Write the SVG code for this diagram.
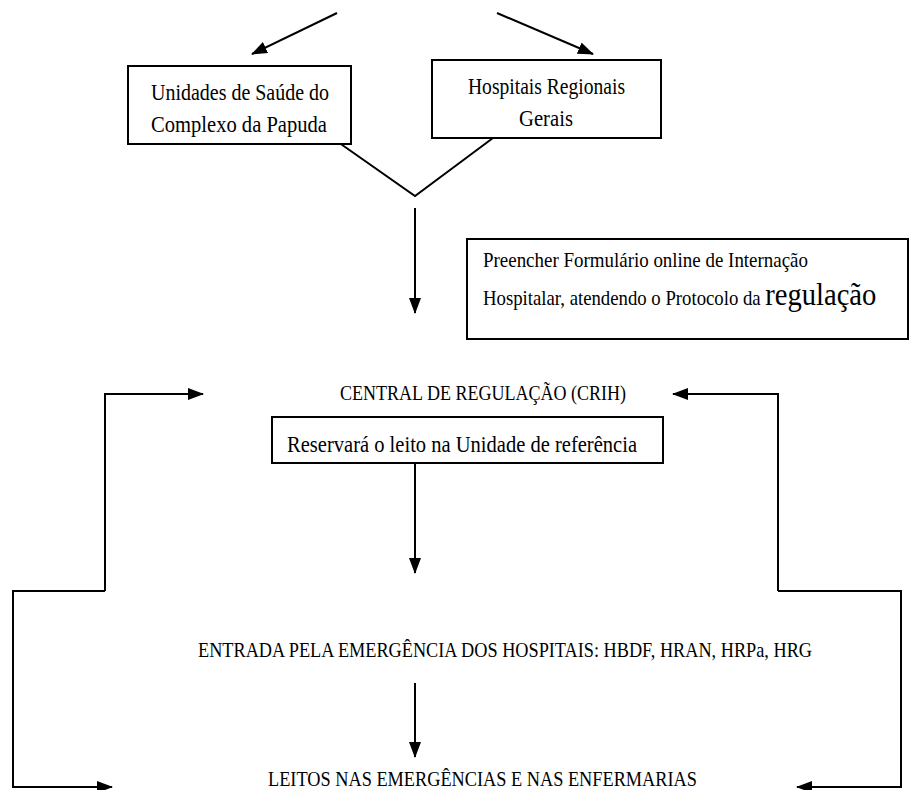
<svg xmlns="http://www.w3.org/2000/svg" width="909" height="790" viewBox="0 0 909 790">
<style>
.box{fill:#fff;stroke:#000;stroke-width:2}
.ln{fill:none;stroke:#000;stroke-width:2}
.t{font-family:"Liberation Serif","Times New Roman",serif;fill:#000;font-size:21px}
.tb{font-family:"Liberation Serif","Times New Roman",serif;fill:#000;font-size:23px}
</style>
<defs>
<marker id="ah" viewBox="0 0 16 12" refX="15" refY="6" markerWidth="16" markerHeight="12" markerUnits="userSpaceOnUse" orient="auto">
<path d="M0,0 L16,6 L0,12 Z" fill="#000"/>
</marker>
</defs>
<rect width="909" height="790" fill="#fff"/>
<g id="connectors">
<line class="ln" x1="337" y1="13" x2="252" y2="54" marker-end="url(#ah)"/>
<line class="ln" x1="497" y1="13" x2="593" y2="54" marker-end="url(#ah)"/>
<polyline class="ln" points="338,142 415,196 497,135"/>
<line class="ln" x1="415" y1="208" x2="415" y2="313" marker-end="url(#ah)"/>
<line class="ln" x1="415" y1="463" x2="415" y2="573" marker-end="url(#ah)"/>
<line class="ln" x1="415" y1="683" x2="415" y2="757" marker-end="url(#ah)"/>
<path class="ln" d="M105,591 V394 H203" marker-end="url(#ah)"/>
<path class="ln" d="M105,591 H13 V787 H112" marker-end="url(#ah)"/>
<path class="ln" d="M778,591 V394 H673" marker-end="url(#ah)"/>
<path class="ln" d="M778,591 H901 V787 H797" marker-end="url(#ah)"/>
</g>
<g id="unidades">
<rect class="box" x="128" y="66" width="223" height="78"/>
<text class="tb" x="151" y="100" textLength="178" lengthAdjust="spacingAndGlyphs">Unidades de Saúde do</text>
<text class="tb" x="151" y="132" textLength="176" lengthAdjust="spacingAndGlyphs">Complexo da Papuda</text>
</g>
<g id="hospitais">
<rect class="box" x="432" y="60" width="229" height="78"/>
<text class="tb" x="468" y="94" textLength="157" lengthAdjust="spacingAndGlyphs">Hospitais Regionais</text>
<text class="tb" x="519" y="126" textLength="54" lengthAdjust="spacingAndGlyphs">Gerais</text>
</g>
<g id="preencher">
<rect class="box" x="467" y="239" width="441" height="100"/>
<text class="t" x="483" y="267" font-size="22" textLength="325" lengthAdjust="spacingAndGlyphs">Preencher Formulário online de Internação</text>
<text class="t" transform="translate(483,305) scale(0.893,1)" x="0" y="0" font-size="22">Hospitalar, atendendo o Protocolo da <tspan font-size="32">regulação</tspan></text>
</g>
<g id="central">
<text class="t" x="340" y="400" textLength="286" lengthAdjust="spacingAndGlyphs">CENTRAL DE REGULAÇÃO (CRIH)</text>
</g>
<g id="reservara">
<rect class="box" x="272" y="417" width="391" height="46"/>
<text class="tb" x="287" y="452" textLength="350" lengthAdjust="spacingAndGlyphs">Reservará o leito na Unidade de referência</text>
</g>
<g id="entrada">
<text class="t" x="198" y="657" textLength="614" lengthAdjust="spacingAndGlyphs">ENTRADA PELA EMERGÊNCIA DOS HOSPITAIS: HBDF, HRAN, HRPa, HRG</text>
</g>
<g id="leitos">
<text class="t" x="268" y="786" textLength="429" lengthAdjust="spacingAndGlyphs">LEITOS NAS EMERGÊNCIAS E NAS ENFERMARIAS</text>
</g>
</svg>
